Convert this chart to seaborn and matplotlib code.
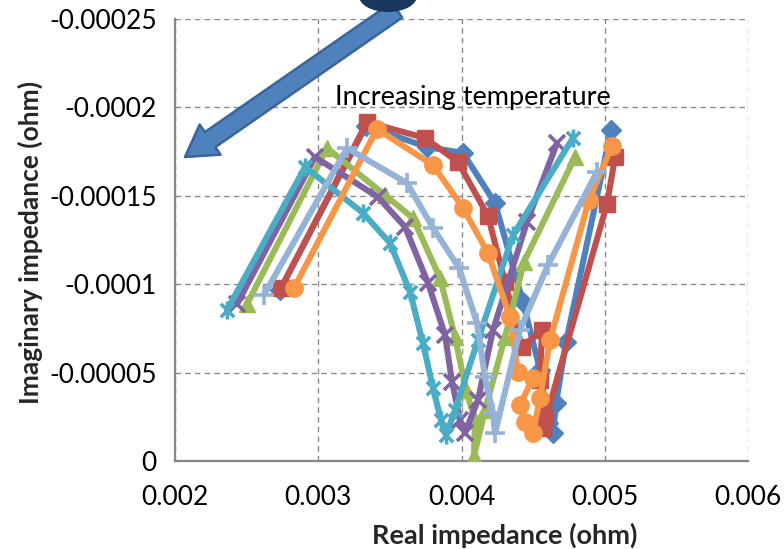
import matplotlib
matplotlib.use("Agg")
import matplotlib.pyplot as plt
import seaborn as sns
import numpy as np
from matplotlib.path import Path
from matplotlib.patches import Ellipse
from matplotlib.transforms import IdentityTransform

# ---------------- data ----------------
blue_x = [0.002733, 0.003333, 0.003759, 0.004011, 0.004234, 0.004429, 0.004548,
          0.004604, 0.004639, 0.004660, 0.004730, 0.005044]
blue_y = [-0.0000967, -0.0001895, -0.0001776, -0.0001742, -0.0001459, -0.0000899, -0.0000515,
          -0.0000215, -0.0000158, -0.0000328, -0.0000673, -0.0001872]

red_x = [0.002740, 0.003340, 0.003745, 0.003976, 0.004185, 0.004304, 0.004422,
         0.004562, 0.004548, 0.004583, 0.004569, 0.005016, 0.005072]
red_y = [-0.0000978, -0.0001917, -0.0001827, -0.0001691, -0.0001386, -0.0001012, -0.0000645,
         -0.0000741, -0.0000458, -0.0000249, -0.0000187, -0.0001454, -0.0001719]

green_x = [0.002503, 0.003061, 0.003466, 0.003661, 0.003850, 0.003955, 0.004031,
           0.004094, 0.004087, 0.004164, 0.004304, 0.004436, 0.004792]
green_y = [-0.0000888, -0.0001770, -0.0001504, -0.0001374, -0.0001035, -0.0000701, -0.0000402,
           -0.0000232, -0.0000028, -0.0000288, -0.0000701, -0.0001126, -0.0001719]

purple_x = [0.002433, 0.002977, 0.003417, 0.003606, 0.003766, 0.003885, 0.003934,
            0.003990, 0.004024, 0.004115, 0.004220, 0.004457, 0.004667]
purple_y = [-0.0000888, -0.0001719, -0.0001493, -0.0001324, -0.0001007, -0.0000713, -0.0000447,
            -0.0000232, -0.0000158, -0.0000345, -0.0000741, -0.0001352, -0.0001799]

teal_x = [0.002363, 0.002908, 0.003312, 0.003501, 0.003641, 0.003731, 0.003801,
          0.003857, 0.003892, 0.003955, 0.004115, 0.004360, 0.004778]
teal_y = [-0.0000854, -0.0001663, -0.0001403, -0.0001233, -0.0000956, -0.0000667, -0.0000413,
          -0.0000232, -0.0000147, -0.0000288, -0.0000684, -0.0001278, -0.0001827]

orange_x = [0.002831, 0.003410, 0.003801, 0.004011, 0.004185, 0.004339, 0.004394,
            0.004499, 0.004408, 0.004443, 0.004499, 0.004548, 0.004618, 0.004890, 0.005051]
orange_y = [-0.0000978, -0.0001878, -0.0001674, -0.0001431, -0.0001176, -0.0000814, -0.0000503,
            -0.0000469, -0.0000317, -0.0000221, -0.0000158, -0.0000356, -0.0000684, -0.0001476, -0.0001782]

lblue_x = [0.002621, 0.003201, 0.003620, 0.003801, 0.003983, 0.004108, 0.004164,
           0.004220, 0.004234, 0.004408, 0.004604, 0.004946]
lblue_y = [-0.0000939, -0.0001770, -0.0001572, -0.0001318, -0.0001092, -0.0000781, -0.0000475,
           -0.0000271, -0.0000158, -0.0000741, -0.0001109, -0.0001635]

x_ticks = [0.002, 0.003, 0.004, 0.005, 0.006]
x_tick_labels = ["0.002", "0.003", "0.004", "0.005", "0.006"]
y_ticks = [0, -0.00005, -0.0001, -0.00015, -0.0002, -0.00025]
y_tick_labels = ["0", "-0.00005", "-0.0001", "-0.00015", "-0.0002", "-0.00025"]

# ---------------- style ----------------
sns.set_style("white")
plt.rcParams['font.family'] = ['Lato', 'DejaVu Sans']

W, H = 784, 549
fig = plt.figure(figsize=(W / 100, H / 100), dpi=100)
ax = fig.add_axes([175 / W, 1 - 461 / H, (748 - 175) / W, (461 - 19) / H])

star = Path([(-1, -1), (1, 1), (-1, 1), (1, -1), (0, -1.35), (0, 1.35)],
            [Path.MOVETO, Path.LINETO, Path.MOVETO, Path.LINETO, Path.MOVETO, Path.LINETO])

series = [
    (blue_x, blue_y, "#4F81BD", "D", 10, 1.0),
    (red_x, red_y, "#C0504D", "s", 11.5, 1.0),
    (green_x, green_y, "#9BBB59", "^", 12, 1.0),
    (purple_x, purple_y, "#8064A2", "x", 12, 2.6),
    (teal_x, teal_y, "#4BACC6", star, 13, 2.6),
    (orange_x, orange_y, "#F79646", "o", 12.5, 1.0),
    (lblue_x, lblue_y, "#95B3D7", "+", 14, 2.6),
]

for xs, ys, col, mk, ms, mew in series:
    sns.lineplot(x=xs, y=ys, sort=False, estimator=None, ax=ax, color=col,
                 linewidth=4.4, marker=mk, markersize=ms, markeredgecolor=col,
                 markerfacecolor=col, markeredgewidth=mew, zorder=3)

ax.set_xlim(0.002, 0.006)
ax.set_ylim(0, -0.00025)
ax.set_xticks(x_ticks)
ax.set_xticklabels(x_tick_labels)
ax.set_yticks(y_ticks)
ax.set_yticklabels(y_tick_labels)

ax.grid(True, color="#8A8A8A", linestyle=(0, (4, 3)), linewidth=1.0, zorder=0)
ax.set_axisbelow(True)
for s in ["top", "right"]:
    ax.spines[s].set_visible(False)
for s in ["left", "bottom"]:
    ax.spines[s].set_color("#868686")
    ax.spines[s].set_linewidth(1.6)
    ax.spines[s].set_zorder(2)

ax.tick_params(axis="both", which="major", direction="out", length=5, width=1.2,
               color="#868686", labelsize=19, labelcolor="#000000")
ax.tick_params(axis="y", pad=8)
ax.tick_params(axis="x", pad=12)

ax.set_xlabel("")
ax.set_ylabel("")
fig.text(505 / W, 1 - 535 / H, "Real impedance (ohm)", ha="center", va="center",
         fontsize=19.5, fontweight="bold")
fig.text(30 / W, 1 - 242 / H, "Imaginary impedance (ohm)", ha="center", va="center",
         rotation=90, fontsize=19, fontweight="bold")

fig.text(335 / W, 1 - 97 / H, "Increasing temperature", ha="left", va="center",
         fontsize=19.5, color="#000000")

# blue arrow
ax.annotate("", xy=(185, H - 157), xycoords="figure pixels",
            xytext=(397, H - 10), textcoords="figure pixels",
            arrowprops=dict(arrowstyle="simple,head_length=1.0,head_width=1.2,tail_width=0.6",
                            fc="#4F81BD", ec="#3A659A", lw=1.8, mutation_scale=22,
                            shrinkA=0, shrinkB=0),
            annotation_clip=False, zorder=5)

# dark shape cut off at the top
ell = Ellipse((388, H + 4), 58, 32, transform=IdentityTransform(),
              facecolor="#17375E", edgecolor="none", zorder=6)
fig.patches.append(ell)

fig.savefig("out.png", dpi=100)
